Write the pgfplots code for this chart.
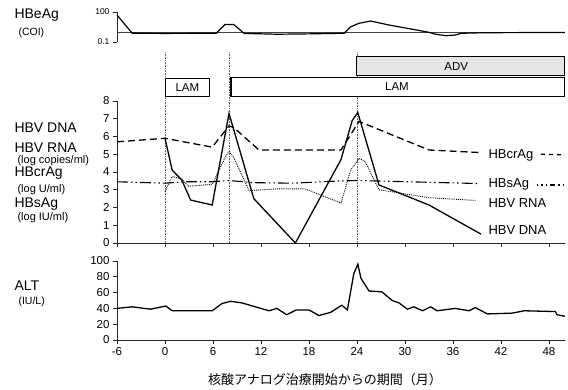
\documentclass[border=0pt]{standalone}
\usepackage{pgfplots}
\pgfplotsset{compat=1.18}
\usepackage{fontspec}
\setmainfont{Liberation Sans}
\newfontfamily\cjk{Noto Sans CJK JP}
\begin{document}
\begin{tikzpicture}[x=1pt,y=1pt]
\path[use as bounding box] (0,0) rectangle (568,389);
\pgfplotsset{
  every axis/.append style={
    scale only axis, width=448pt, xmin=-6, xmax=50,
    tick label style={font=\fontsize{11.5}{12}\selectfont},
    /pgf/number format/assume math mode=true,
    axis line style={line width=0.9pt, black!85},
    tick style={line width=0.7pt, black!85},
    major tick length=4pt,
    tick align=outside,
    clip=false,
  }
}
% ---------------- HBeAg ----------------
\begin{axis}[at={(117pt,347pt)}, anchor=south west, height=30pt,
  ymode=log, ymin=0.1, ymax=100, ytick={0.1,100}, yticklabels={0.1,100},
  axis y line*=left, axis x line=none, xtick=\empty,
  yticklabel style={font=\fontsize{8.5}{9}\selectfont}]
\addplot[black!75, line width=0.8pt] coordinates {(-6,1) (50,1)};
\addplot[black, line width=1.2pt] coordinates {
(-6,50) (-4.1,0.75) (0,0.72) (6.4,0.75) (7.5,5.5) (8.6,5.5) (9.9,0.72)
(14,0.6) (18,0.65) (22.4,0.75) (23.2,3.3) (24.25,7.4) (25.7,12.5) (28,5)
(30.9,1.9) (33,0.93) (33.8,0.6) (35.1,0.43) (36.3,0.5) (37,0.74) (40,0.85) (50,0.9)};
\end{axis}
% ---------------- Main ----------------
\begin{axis}[at={(117pt,146pt)}, anchor=south west, height=142pt,
  ymin=0, ymax=8, ytick={0,...,8}, xtick={-6,0,...,48}, xticklabels={},
  axis x line*=bottom, axis y line*=left]
% treatment bars
\draw[black!60, densely dotted, line width=0.6pt] (0,0) -- (0,10.8);
\draw[black!60, densely dotted, line width=0.6pt] (8,0) -- (8,10.8);
\draw[black!60, densely dotted, line width=0.6pt] (24,0) -- (24,10.8);
\draw[line width=1pt, fill=white] (0,8.28) rectangle (5.6,9.28);
\node[font=\fontsize{11.5}{12}\selectfont] at (2.8,8.78) {LAM};
\draw[line width=1pt, fill=white] (8.25,8.28) rectangle (50,9.3);
\node[font=\fontsize{11.5}{12}\selectfont] at (29,8.79) {LAM};
\draw[line width=1pt, fill=black!10] (24,9.42) rectangle (50,10.5);
\node[font=\fontsize{11.5}{12}\selectfont] at (36.4,9.96) {ADV};
% HBcrAg
\addplot[black, line width=1.3pt, dash pattern=on 7pt off 4pt] coordinates {
(-6,5.7) (0,5.9) (5.9,5.4) (8,6.6) (8.6,6.5) (11.75,5.24) (22,5.24)
(24.25,6.85) (33,5.24) (39.2,5.1)};
\addplot[black, line width=1.3pt, dash pattern=on 4pt off 4pt] coordinates {(47,5.0) (50,4.97)};
% HBsAg
\addplot[black, line width=1.1pt, dash pattern=on 11pt off 3pt on 1.5pt off 3pt on 1.5pt off 3pt] coordinates {
(-6,3.45) (0,3.37) (2.5,3.45) (5.9,3.45) (8,3.52) (11,3.4) (16,3.37)
(22,3.5) (24.25,3.52) (39.2,3.35)};
\addplot[black, line width=1.1pt, dash pattern=on 1.5pt off 3pt on 1.5pt off 3pt on 1.5pt off 3pt on 5pt off 3pt] coordinates {(46.5,3.27) (50,3.27)};
% HBV RNA
\addplot[black, line width=0.9pt, densely dotted] coordinates {
(0,2.9) (0.9,3.75) (2.1,3.6) (2.9,3.2) (5.9,3.3) (7.6,4.9) (8,5.14) (8.5,4.9)
(10.5,2.95) (14,3.05) (17.5,3.05) (22,2.25) (23.2,4.1) (24.25,4.77) (25,4.6)
(26.75,3.0) (33,2.55) (38.8,2.4)};
% HBV DNA
\addplot[black, line width=1.3pt] coordinates {
(0,5.9) (0.9,4.1) (2.1,3.55) (3.2,2.42) (5.9,2.14) (8,7.3) (11.1,2.5) (16.3,0)
(22,4.7) (23.4,6.9) (24.1,7.35) (26.75,3.27) (33,2.14) (39.5,0.5)};
\node[anchor=west, font=\fontsize{13}{14}\selectfont] at (40,4.95) {HBcrAg};
\node[anchor=west, font=\fontsize{13}{14}\selectfont] at (40,3.3) {HBsAg};
\node[anchor=west, font=\fontsize{13}{14}\selectfont] at (40,2.27) {HBV RNA};
\node[anchor=west, font=\fontsize{13}{14}\selectfont] at (40,0.75) {HBV DNA};
\end{axis}
% ---------------- ALT ----------------
\begin{axis}[at={(117pt,49pt)}, anchor=south west, height=79pt,
  ymin=0, ymax=100, ytick={0,20,...,100}, xtick={-6,0,...,48},
  xticklabels={-6,0,6,12,18,24,30,36,42,48},
  axis x line*=bottom, axis y line*=left]
\addplot[black, line width=1.3pt] coordinates {
(-6,40) (-4.1,42) (-1.8,39) (0.1,43) (0.9,37) (5.9,37) (7.1,46) (8.2,49)
(9.6,47) (11.3,42) (13,37) (14,40) (15.2,32) (16.4,38) (18,38) (19.25,31)
(20.7,35) (22.1,44) (22.8,38) (23.6,84) (24.1,96) (24.5,78) (25.5,62) (27.1,61)
(28.4,50) (29.25,47) (30.3,39) (31.1,42) (32.2,37) (33.2,42) (34,37) (36.3,40)
(38,37) (38.8,41) (40.3,33) (43.4,34) (44.9,37) (48.8,36) (49,32) (50,30)};
\end{axis}
% ---------------- left labels ----------------
\node[anchor=west, font=\fontsize{14}{15}\selectfont] at (11,374) {HBeAg};
\node[anchor=west, font=\fontsize{10.5}{11}\selectfont] at (15,356) {(COI)};
\node[anchor=west, font=\fontsize{14}{15}\selectfont] at (11,261) {HBV DNA};
\node[anchor=west, font=\fontsize{14}{15}\selectfont] at (11,241.5) {HBV RNA};
\node[anchor=west, font=\fontsize{11}{12}\selectfont] at (14,228) {(log copies/ml)};
\node[anchor=west, font=\fontsize{14}{15}\selectfont] at (11,215.5) {HBcrAg};
\node[anchor=west, font=\fontsize{11}{12}\selectfont] at (14,199.5) {(log U/ml)};
\node[anchor=west, font=\fontsize{14}{15}\selectfont] at (11,184.5) {HBsAg};
\node[anchor=west, font=\fontsize{11}{12}\selectfont] at (14,171) {(log IU/ml)};
\node[anchor=west, font=\fontsize{14}{15}\selectfont] at (11,103) {ALT};
\node[anchor=west, font=\fontsize{10.5}{11}\selectfont] at (15,87) {(IU/L)};
\node[font=\cjk\fontsize{13}{14}\selectfont] at (325,9) {核酸アナログ治療開始からの期間（月）};
\end{tikzpicture}
\end{document}
